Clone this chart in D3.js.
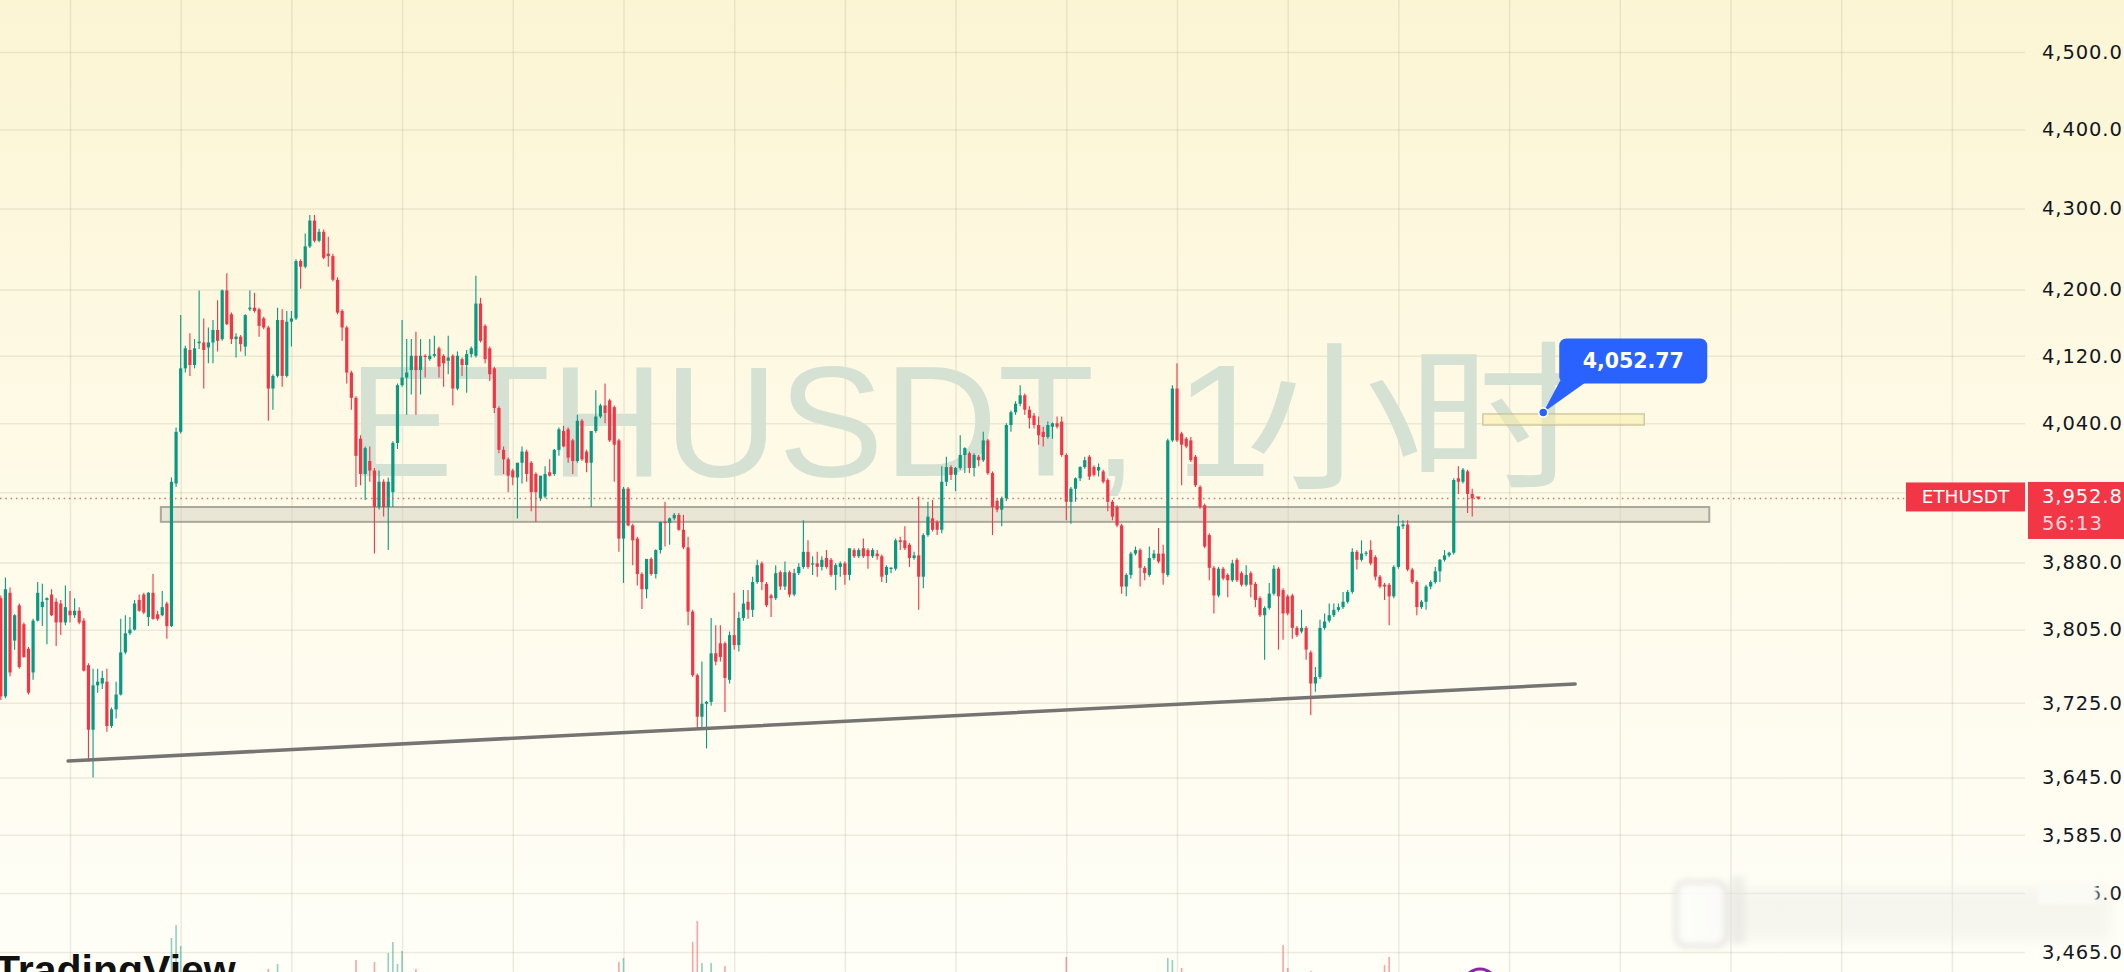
<!DOCTYPE html>
<html><head><meta charset="utf-8">
<script src="https://cdn.jsdelivr.net/npm/d3@7"></script>
<style>html,body{margin:0;padding:0;overflow:hidden;background:#fffdf2}svg{display:block}</style>
</head><body>
<svg id="chart" width="2124" height="972"></svg>
<script>
// ---------- DATA (ETHUSDT, 1h) ----------
const opens = [
3840,3732,3846,3793,3832,3811,3784,3758,3815,3830,
3838,3844,3836,3834,3813,3826,3821,3826,3815,3766,
3696,3744,3746,3748,3700,3718,3734,3780,3801,3805,
3838,3844,3819,3846,3822,3821,3834,3809,3970,4030,
4105,4127,4109,4135,4136,4130,4136,4151,4140,4199,
4170,4140,4143,4131,4176,4178,4176,4165,4154,4081,
4096,4163,4096,4161,4165,4235,4228,4253,4285,4260,
4271,4244,4241,4212,4174,4154,4100,4070,4022,3981,
3996,3985,3943,3972,3943,3960,4017,4085,4094,4103,
4120,4103,4120,4116,4120,4129,4120,4114,4120,4081,
4116,4109,4122,4120,4183,4156,4129,4105,4058,4009,
3998,3985,3977,3994,4007,3994,3981,3953,3955,3983,
3981,4009,4031,4033,4020,3996,4043,4007,3994,4031,
4048,4061,4067,4059,4020,3907,3964,3922,3907,3867,
3850,3884,3867,3894,3926,3925,3930,3934,3917,3897,
3825,3755,3710,3724,3726,3779,3790,3790,3750,3799,
3788,3818,3836,3827,3858,3879,3856,3843,3840,3869,
3853,3869,3844,3868,3875,3892,3878,3879,3875,3885,
3883,3866,3875,3879,3866,3894,3887,3896,3894,3887,
3890,3887,3866,3873,3873,3905,3905,3900,3885,3888,
3864,3911,3930,3926,3917,3972,3989,3980,3988,4003,
4005,3988,4001,3997,4020,3982,3950,3940,3953,4038,
4053,4063,4073,4056,4049,4038,4030,4024,4036,4040,
4042,4003,3949,3964,3976,3989,4001,3989,3985,3984,
3974,3949,3943,3922,3853,3866,3890,3894,3874,3866,
3885,3890,3890,3866,4020,4081,4028,4022,4020,4001,
3966,3945,3911,3874,3843,3873,3866,3860,3883,3868,
3855,3868,3856,3840,3821,3829,3845,3873,3849,3842,
3843,3807,3803,3807,3780,3746,3753,3807,3815,3821,
3827,3830,3836,3847,3892,3883,3890,3894,3886,3864,
3855,3855,3842,3875,3921,3923,3872,3858,3830,3836,
3853,3858,3870,3883,3888,3891,3976,3972,3984,3958];
const highs = [
3843,3863,3852,3822,3834,3813,3786,3817,3858,3856,
3841,3850,3840,3838,3854,3848,3840,3830,3818,3768,
3762,3762,3760,3762,3720,3748,3817,3821,3819,3838,
3844,3846,3847,3867,3826,3848,3836,3977,4035,4169,
4132,4147,4140,4199,4165,4154,4163,4187,4200,4220,
4172,4147,4145,4170,4199,4196,4178,4167,4156,4098,
4178,4176,4174,4174,4237,4237,4269,4292,4292,4275,
4274,4265,4244,4215,4176,4156,4102,4072,4026,4013,
4013,3988,3985,3975,3977,4019,4087,4163,4140,4140,
4149,4140,4122,4140,4144,4131,4122,4144,4122,4125,
4118,4127,4131,4217,4190,4158,4131,4107,4060,4013,
4000,3987,3994,4013,4009,3996,3983,3979,3990,3998,
4010,4035,4037,4035,4022,4050,4045,4009,4031,4079,
4063,4087,4069,4061,4022,3966,3966,3924,3909,3869,
3884,3886,3895,3926,3949,3931,3936,3936,3934,3909,
3827,3757,3770,3727,3818,3810,3810,3792,3803,3846,
3825,3849,3849,3864,3883,3881,3858,3845,3877,3871,
3881,3871,3873,3879,3928,3905,3887,3892,3887,3894,
3885,3879,3881,3881,3896,3896,3896,3907,3896,3896,
3894,3889,3877,3875,3907,3909,3921,3902,3892,3955,
3913,3949,3951,3928,3990,4001,3991,3989,4026,4012,
4007,4005,4003,4030,4022,3984,3952,3955,4040,4055,
4066,4085,4075,4060,4052,4048,4036,4042,4041,4048,
4048,4005,3966,3977,3990,4001,4003,3991,3993,3986,
3976,3951,3945,3924,3868,3892,3898,3896,3876,3898,
3894,3919,3900,4022,4085,4111,4030,4024,4024,4003,
3968,3947,3913,3876,3875,3875,3868,3883,3885,3870,
3877,3870,3858,3842,3831,3857,3877,3875,3851,3844,
3845,3809,3827,3809,3782,3764,3816,3823,3834,3834,
3834,3847,3849,3896,3894,3905,3893,3905,3888,3866,
3857,3857,3877,3934,3928,3928,3874,3860,3838,3855,
3860,3875,3884,3894,3892,3976,3990,3988,3986,3964];
const lows = [
3728,3730,3754,3783,3762,3774,3734,3750,3814,3809,
3789,3820,3787,3799,3810,3813,3818,3811,3759,3662,
3645,3736,3740,3694,3698,3708,3733,3778,3799,3804,
3825,3822,3809,3816,3815,3820,3795,3808,3966,4028,
4100,4096,4105,4128,4081,4111,4111,4125,4138,4157,
4134,4118,4125,4120,4174,4172,4143,4152,4043,4056,
4094,4083,4094,4131,4163,4201,4226,4251,4258,4258,
4237,4228,4210,4170,4138,4087,4056,3966,3968,3951,
3972,3890,3940,3932,3894,3943,4010,4083,4050,4074,
4050,4074,4094,4114,4118,4094,4083,4098,4061,4079,
4096,4076,4118,4118,4136,4111,4090,4052,4005,3981,
3960,3968,3930,3970,3972,3938,3926,3950,3953,3978,
3979,4002,4012,3994,3981,3994,3996,3983,3943,4029,
4046,4040,4018,3972,3892,3857,3921,3877,3854,3828,
3840,3865,3862,3890,3898,3900,3928,3916,3895,3810,
3753,3697,3697,3676,3722,3766,3770,3715,3746,3783,
3781,3815,3817,3819,3856,3849,3830,3819,3838,3849,
3849,3841,3842,3866,3873,3873,3866,3864,3871,3873,
3864,3849,3864,3855,3860,3885,3885,3885,3873,3885,
3883,3858,3857,3868,3871,3894,3894,3875,3883,3827,
3851,3909,3915,3911,3913,3967,3974,3961,3986,3982,
3982,3978,3990,3995,3980,3911,3937,3921,3950,4030,
4050,4060,4050,4034,4034,4015,4013,4022,4022,4034,
4001,3928,3924,3949,3973,3987,3974,3978,3978,3970,
3938,3928,3920,3845,3842,3862,3888,3853,3860,3864,
3883,3879,3855,3864,4018,4018,3968,4011,3995,3966,
3941,3896,3860,3823,3841,3860,3841,3858,3858,3853,
3853,3841,3830,3819,3772,3827,3843,3783,3794,3821,
3795,3797,3801,3772,3712,3737,3751,3805,3813,3819,
3825,3828,3834,3845,3872,3881,3887,3877,3860,3851,
3838,3810,3840,3873,3918,3870,3856,3821,3828,3827,
3850,3856,3858,3881,3886,3889,3958,3970,3936,3932];
const closes = [
3732,3850,3758,3821,3764,3775,3736,3815,3846,3836,
3840,3821,3813,3813,3830,3821,3826,3813,3760,3696,
3744,3748,3752,3700,3718,3734,3780,3801,3805,3834,
3826,3824,3846,3817,3817,3830,3809,3972,4030,4105,
4129,4109,4129,4137,4127,4136,4151,4138,4199,4158,
4140,4143,4134,4169,4178,4174,4156,4154,4081,4096,
4163,4096,4161,4165,4235,4228,4253,4285,4260,4271,
4239,4241,4212,4172,4154,4100,4070,4002,3981,4011,
3985,3943,3972,3943,3972,4017,4085,4094,4100,4120,
4103,4120,4119,4120,4122,4107,4111,4118,4081,4120,
4109,4122,4129,4183,4138,4116,4098,4058,4009,3998,
3979,3977,3994,4007,3981,3960,3960,3979,3981,3979,
4009,4033,4013,4000,3996,4043,3998,3994,4031,4048,
4061,4052,4020,4015,3907,3964,3922,3905,3867,3850,
3884,3867,3894,3926,3925,3930,3934,3917,3897,3825,
3755,3710,3724,3726,3779,3770,3775,3752,3799,3788,
3818,3834,3827,3858,3877,3858,3832,3840,3868,3853,
3869,3844,3868,3875,3892,3875,3879,3875,3883,3875,
3866,3877,3879,3866,3896,3887,3894,3887,3887,3894,
3887,3864,3875,3874,3905,3903,3896,3885,3888,3864,
3911,3932,3917,3917,3972,3989,3980,3988,4003,4011,
3988,4003,3997,4020,3982,3943,3940,3953,4038,4053,
4063,4073,4056,4046,4038,4026,4024,4038,4040,4036,
4003,3949,3964,3976,3989,3997,3978,3980,3989,3972,
3949,3932,3922,3853,3866,3890,3894,3874,3868,3885,
3890,3881,3868,4020,4081,4020,4015,4013,3997,3968,
3943,3898,3874,3843,3873,3862,3860,3879,3860,3855,
3866,3855,3838,3821,3829,3845,3873,3842,3823,3823,
3807,3799,3807,3783,3746,3753,3807,3814,3821,3827,
3830,3836,3847,3892,3883,3890,3891,3879,3864,3853,
3853,3842,3875,3921,3923,3872,3858,3830,3836,3853,
3858,3870,3883,3888,3891,3974,3972,3986,3958,3952.8];
const volumes = [
14,12,15,10,11,9,13,12,10,9, 8,9,10,11,9,8,7,9,12,16,
18,10,8,12,9,10,14,11,9,10, 8,9,10,11,7,9,12,52,65,44,
18,14,12,16,15,11,10,13,17,15, 11,9,8,12,10,9,11,8,21,16,
26,18,15,12,17,12,14,16,13,10, 12,9,11,13,12,15,17,30,16,14,
13,28,12,11,37,48,26,39,16,14, 21,12,9,10,11,10,12,9,14,12,
9,10,8,18,14,12,11,15,17,12, 11,9,12,10,11,12,14,9,10,8,
9,10,9,11,12,14,13,10,15,11, 9,10,12,14,28,32,15,13,16,14,
12,10,11,12,13,10,8,9,11,18, 48,69,27,18,27,14,12,24,15,13,
12,11,10,12,11,10,12,9,11,10, 8,9,10,8,12,9,7,8,7,8,
8,9,7,8,9,7,6,7,8,6, 7,9,8,6,10,8,9,8,7,17,
14,12,10,9,15,12,9,8,10,9, 8,9,7,10,11,16,12,10,18,13,
11,12,10,9,8,10,9,8,7,9, 12,33,14,11,10,9,10,8,7,9,
11,10,12,18,14,11,9,12,9,10, 8,11,12,32,30,18,22,12,11,14,
13,16,14,17,12,10,9,10,11,9, 8,10,9,11,15,12,10,14,45,22,
16,11,10,14,19,13,15,10,9,8, 8,9,8,14,10,9,7,10,11,9,
25,33,14,16,10,13,11,12,9,10, 8,9,10,9,8,16,12,9,11,6];
const priceTicks = [4500,4400,4300,4200,4120,4040,3960,3880,3805,3725,3645,3585,3525,3465];
const dayStartBars = [15,39,63,87,111,135,159,183,207,231,255,279,303,327,351,375,399,423];
const symbol = "ETHUSDT";
const intervalName = "1小时";
const lastPrice = 3952.8;
const countdown = "56:13";
const trendLine = {bar0: 14.6, price0: 3662.6, bar1: 341.3, price1: 3745.5};
const supportZone = {bar0: 34.7, bar1: 370.4, top: 3943, bottom: 3926};
const targetZone = {bar0: 321.3, bar1: 356.3, top: 4051, bottom: 4038};
const callout = {bar: 334.4, price: 4052.77};

// ---------- CHART ----------
const W = 2124, H = 972, plotRight = 2025;
const svg = d3.select("#chart");
const UP = "#089981", DOWN = "#f23645";
const FONT = "'DejaVu Sans',sans-serif";
const defs = svg.append("defs");
const bg = defs.append("linearGradient").attr("id","bg").attr("x1",0).attr("y1",0).attr("x2",0).attr("y2",1);
bg.append("stop").attr("offset","0%").attr("stop-color","#fcf5d4");
bg.append("stop").attr("offset","55%").attr("stop-color","#fefbea");
bg.append("stop").attr("offset","100%").attr("stop-color","#fffef7");
defs.append("filter").attr("id","blur6").attr("x","-20%").attr("y","-60%").attr("width","140%").attr("height","220%")
  .append("feGaussianBlur").attr("stdDeviation",6);
defs.append("filter").attr("id","blur3").attr("x","-30%").attr("y","-40%").attr("width","160%").attr("height","180%")
  .append("feGaussianBlur").attr("stdDeviation",3);
defs.append("filter").attr("id","blur2").attr("x","-30%").attr("y","-40%").attr("width","160%").attr("height","180%")
  .append("feGaussianBlur").attr("stdDeviation",1.4);

svg.append("rect").attr("width",W).attr("height",H).attr("fill","url(#bg)");

const bars = opens.map((o,i)=>({i, o, h: highs[i], l: lows[i], c: closes[i], v: volumes[i]}));
const x = d3.scaleLinear().domain([0, bars.length-1]).range([0.8, 1472.2]);
const y = d3.scaleLog().domain([3465, 4500]).range([952, 52]);
const yv = d3.scaleLinear().domain([0, 100]).range([990, 890]);

// grid
const gx = svg.append("g").attr("class","vgrid")
  .call(d3.axisBottom(x).tickValues(dayStartBars).tickSize(H).tickFormat(""));
gx.select(".domain").remove();
gx.selectAll("line").attr("stroke","rgba(150,140,110,0.17)").attr("stroke-width",1.5);
const gy = svg.append("g").attr("class","hgrid")
  .call(d3.axisRight(y).tickValues(priceTicks).tickSize(plotRight).tickFormat(""));
gy.select(".domain").remove();
gy.selectAll("line").attr("stroke","rgba(150,140,110,0.17)").attr("stroke-width",1.5);

// watermark: "ETHUSDT," and "1小时" (CJK part slightly widened like the source font)
const [wmA, wmB] = [symbol + ",", intervalName];
svg.append("text").attr("x",348).attr("y",476)
  .attr("font-family","'Liberation Sans',sans-serif").attr("font-size",158)
  .attr("dx","0 0 0 0 0 0 0 17")
  .attr("fill","#d5e1d2").text(wmA);
svg.append("text").attr("transform","translate(1174,476) scale(1.1,1)")
  .attr("font-family","'Liberation Sans','Noto Sans CJK SC',sans-serif").attr("font-size",160)
  .attr("dx","0 -24 -13")
  .attr("fill","#d5e1d2").text(wmB);

// volume
svg.append("g").selectAll("rect").data(bars).join("rect")
  .attr("x", d=>x(d.i)-0.8).attr("width",1.6)
  .attr("y", d=>yv(d.v)).attr("height", d=>yv(0)-yv(d.v))
  .attr("fill", d=> d.c>=d.o ? "rgba(8,153,129,0.45)" : "rgba(242,54,69,0.45)");

// support zone
svg.append("rect")
  .attr("x", x(supportZone.bar0)).attr("width", x(supportZone.bar1)-x(supportZone.bar0))
  .attr("y", y(supportZone.top)).attr("height", y(supportZone.bottom)-y(supportZone.top))
  .attr("fill","rgba(205,200,185,0.42)").attr("stroke","rgba(160,155,145,0.85)").attr("stroke-width",2);
// target zone
svg.append("rect")
  .attr("x", x(targetZone.bar0)).attr("width", x(targetZone.bar1)-x(targetZone.bar0))
  .attr("y", y(targetZone.top)).attr("height", y(targetZone.bottom)-y(targetZone.top))
  .attr("fill","rgba(250,238,170,0.55)").attr("stroke","rgba(200,190,150,0.8)").attr("stroke-width",1.5);

// candles
const cg = svg.append("g");
const cs = cg.selectAll("g").data(bars).join("g");
cs.append("line").attr("x1",d=>x(d.i)).attr("x2",d=>x(d.i))
  .attr("y1",d=>y(d.h)).attr("y2",d=>y(d.l))
  .attr("stroke",d=>d.c>=d.o?UP:DOWN).attr("stroke-width",1.1);
cs.append("rect").attr("x",d=>x(d.i)-1.6).attr("width",3.2)
  .attr("y",d=>y(Math.max(d.o,d.c)))
  .attr("height",d=>Math.max(1.2, y(Math.min(d.o,d.c))-y(Math.max(d.o,d.c))))
  .attr("fill",d=>d.c>=d.o?UP:DOWN);

// trend line
svg.append("line")
  .attr("x1", x(trendLine.bar0)).attr("y1", y(trendLine.price0))
  .attr("x2", x(trendLine.bar1)).attr("y2", y(trendLine.price1))
  .attr("stroke","#767472").attr("stroke-width",3.6).attr("stroke-linecap","round");

// last price dotted line
const yp = y(lastPrice);
svg.append("line").attr("x1",0).attr("x2",plotRight).attr("y1",yp).attr("y2",yp)
  .attr("stroke","#c0605a").attr("stroke-opacity",0.8).attr("stroke-width",1.5).attr("stroke-dasharray","1.6,3.7");
const lx = x(bars.length-1)+6;
svg.append("path").attr("d",`M${lx-2.5},${yp-2}L${lx+2.5},${yp-2}L${lx},${yp+1.5}Z`).attr("fill",DOWN);

// callout
const ax = x(callout.bar), ay = y(callout.price);
const cgp = svg.append("g");
cgp.append("path").attr("d",`M${ax+17},${ay-32}L${ax+45},${ay-32}L${ax},${ay}Z`).attr("fill","#2962ff");
cgp.append("rect").attr("x",ax+16).attr("y",ay-74).attr("width",148).attr("height",45).attr("rx",7).attr("fill","#2962ff");
cgp.append("circle").attr("cx",ax).attr("cy",ay).attr("r",4.5).attr("fill","#2962ff").attr("stroke","#fff").attr("stroke-width",1.5);
cgp.append("text").attr("x",ax+90).attr("y",ay-51.5).attr("text-anchor","middle").attr("dominant-baseline","central")
  .attr("font-family",FONT).attr("font-weight","bold").attr("font-size",20.5)
  .attr("fill","#fff").text(d3.format(",.2f")(callout.price));

// right axis
const axisG = svg.append("g").attr("transform",`translate(${plotRight},0)`)
  .call(d3.axisRight(y).tickValues(priceTicks).tickFormat(d3.format(",.1f")).tickSize(0).tickPadding(17));
axisG.select(".domain").remove();
axisG.selectAll("text").attr("font-family",FONT).attr("font-size",19.5)
  .attr("letter-spacing","0.9px").attr("fill","#131722");

// price labels
svg.append("rect").attr("x",1906).attr("y",yp-16).attr("width",plotRight-1906).attr("height",29).attr("fill",DOWN);
svg.append("text").attr("x",(1906+plotRight)/2).attr("y",yp-1.5).attr("text-anchor","middle").attr("dominant-baseline","central")
  .attr("font-family",FONT).attr("font-size",18.5).attr("fill","#fff").text(symbol);
svg.append("rect").attr("x",plotRight+3).attr("y",yp-16.5).attr("width",120).attr("height",57).attr("fill",DOWN);
svg.append("text").attr("x",plotRight+17).attr("y",yp-1.5).attr("dominant-baseline","central")
  .attr("font-family",FONT).attr("font-size",19.5).attr("letter-spacing","0.9px")
  .attr("fill","#fff").text(d3.format(",.1f")(lastPrice));
svg.append("text").attr("x",plotRight+17).attr("y",yp+25).attr("dominant-baseline","central")
  .attr("font-family",FONT).attr("font-size",19.5).attr("letter-spacing","0.9px")
  .attr("fill","#ffd6da").text(countdown);

// blurred overlay mark bottom right
const wm = svg.append("g");
wm.append("rect").attr("x",1700).attr("y",888).attr("width",410).attr("height",52).attr("fill","#e6e6e2").attr("opacity",0.35).attr("filter","url(#blur6)");
wm.append("rect").attr("x",2038).attr("y",882).attr("width",58).attr("height",22).attr("fill","#fbfbf5").attr("filter","url(#blur2)");
wm.append("line").attr("x1",1740).attr("x2",2098).attr("y1",892).attr("y2",892).attr("stroke","#999").attr("stroke-width",3).attr("opacity",0.25).attr("filter","url(#blur2)");
wm.append("line").attr("x1",2045).attr("x2",2098).attr("y1",892).attr("y2",892).attr("stroke","#333").attr("stroke-width",3).attr("opacity",0.55).attr("filter","url(#blur2)");
wm.append("rect").attr("x",1676).attr("y",882).attr("width",50).attr("height",64).attr("rx",10).attr("fill","#fdfdfb").attr("stroke","#d4d4d0").attr("stroke-width",3).attr("opacity",0.85).attr("filter","url(#blur3)");
wm.append("rect").attr("x",1731).attr("y",876).attr("width",14).attr("height",68).attr("fill","#e2e2de").attr("opacity",0.5).attr("filter","url(#blur3)");
[1995,2027,2053,2067,2074,2081,2095].forEach(px=>{
  wm.append("line").attr("x1",px).attr("x2",px).attr("y1",882).attr("y2",948).attr("stroke","#555").attr("stroke-width",2).attr("opacity",0.4).attr("filter","url(#blur2)");
});

// logo + bottom marks
svg.append("text").attr("x",-5).attr("y",984).attr("font-family","'Liberation Sans',sans-serif")
  .attr("font-weight","bold").attr("font-size",41).attr("fill","#111").text("TradingView");
svg.append("circle").attr("cx",1480).attr("cy",985).attr("r",16).attr("fill","none").attr("stroke","#8e24aa").attr("stroke-width",3.2);
</script>
</body></html>
